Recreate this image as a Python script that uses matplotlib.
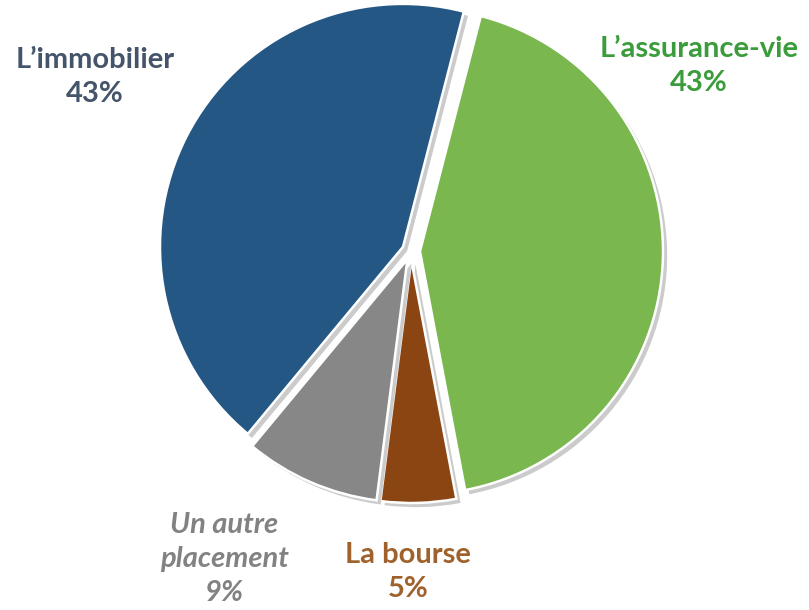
import matplotlib
matplotlib.use('Agg')
import matplotlib.pyplot as plt
import matplotlib.patheffects as pe

# data
labels = ["L\u2019assurance-vie", "La bourse", "Un autre\nplacement", "L\u2019immobilier"]
shares = [43, 5, 9, 43]
slice_colors = ["#7ab74f", "#8b4513", "#878787", "#255784"]
label_colors = ["#3a9c3a", "#a0622d", "#828282", "#44546a"]
label_styles = ["normal", "normal", "italic", "normal"]

W, H = 809, 610
fig = plt.figure(figsize=(W / 100, H / 100), dpi=100)
ax = fig.add_axes([0, 0, 1, 1])

cx, cy, r = 411, H - 251, 243
# explode is in data units (pixels here)
wedges, _ = ax.pie(shares, colors=slice_colors, startangle=75.5, counterclock=False,
                   explode=[9] * len(shares), center=(cx, cy), radius=r,
                   wedgeprops=dict(edgecolor='white', linewidth=1.8))
ax.set_xlim(0, W)
ax.set_ylim(0, H)
ax.set_aspect('equal')
ax.axis('off')
for w in wedges:
    w.set_path_effects([pe.SimplePatchShadow(offset=(3, -3), alpha=0.3, shadow_rgbFace='#555555'),
                        pe.Normal()])

# label positions (pixel coords from top-left)
label_pos = [(699, 66), (408, 572), (224, 559), (95, 77)]
for lab, val, col, sty, (x, y) in zip(labels, shares, label_colors, label_styles, label_pos):
    ax.text(x, H - y, f"{lab}\n{val}%", ha='center', va='center', color=col,
            fontsize=21, fontweight='bold', fontstyle=sty, family='Lato',
            linespacing=1.4)

fig.savefig('out.png', dpi=100)
